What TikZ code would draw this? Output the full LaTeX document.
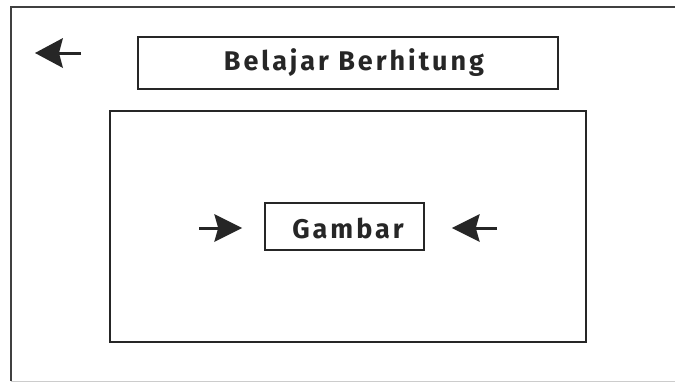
\documentclass[tikz,border=0pt]{standalone}
\usepackage{fontspec}
\setmainfont{Fira Sans}
\begin{document}
\begin{tikzpicture}[x=1pt,y=-1pt,
  frame/.style={draw=black!75,line width=1.6pt},
  box/.style={draw=black!85,line width=1.6pt},
  label/.style={font=\fontsize{27}{31}\selectfont\bfseries\addfontfeature{LetterSpace=11},text=black!85},
  shaft/.style={draw=black!85,line width=3pt},
  tipfill/.style={fill=black!85}]
  \useasboundingbox (0,0) rectangle (675,383);
  \fill[white] (0,0) rectangle (675,383);
  % outer screen frame, open to the right
  \draw[frame] (675,7) -- (11,7) -- (11,381);
  \draw[black!20,line width=1pt] (11,381.5) -- (675,381.5);
  % title bar
  \node[box,minimum width=420pt,minimum height=52pt,inner sep=0pt] (title) at (348,63) {};
  \node[label] (titletext) at (354,63) {Belajar Berhitung};
  % back arrow (points left)
  \coordinate (backstart) at (81,53);
  \coordinate (backend) at (35,53);
  \draw[shaft] (backstart) -- ([xshift=22pt]backend);
  \fill[tipfill] (backend) -- ([xshift=28pt,yshift=15pt]backend) -- ([xshift=24pt]backend)
    -- ([xshift=28pt,yshift=-15pt]backend) -- cycle;
  % content area
  \node[box,minimum width=476pt,minimum height=231pt,inner sep=0pt] (content) at (348,226.5) {};
  % picture placeholder
  \node[box,minimum width=159pt,minimum height=47pt,inner sep=0pt] (pic) at (344.5,226.5) {};
  \node[label] (pictext) at (348,228) {Gambar};
  % navigation arrows
  \coordinate (lstart) at (199,228);
  \coordinate (lend) at ([xshift=-22pt]pic.west|-lstart);
  \coordinate (rstart) at (497,228);
  \coordinate (rend) at ([xshift=27pt]pic.east|-rstart);
  \draw[shaft] (lstart) -- ([xshift=-22pt]lend);
  \fill[tipfill] (lend) -- ([xshift=-28pt,yshift=14pt]lend) -- ([xshift=-24pt]lend)
    -- ([xshift=-28pt,yshift=-14pt]lend) -- cycle;
  \draw[shaft] (rstart) -- ([xshift=22pt]rend);
  \fill[tipfill] (rend) -- ([xshift=28pt,yshift=14pt]rend) -- ([xshift=24pt]rend)
    -- ([xshift=28pt,yshift=-14pt]rend) -- cycle;
\end{tikzpicture}
\end{document}
